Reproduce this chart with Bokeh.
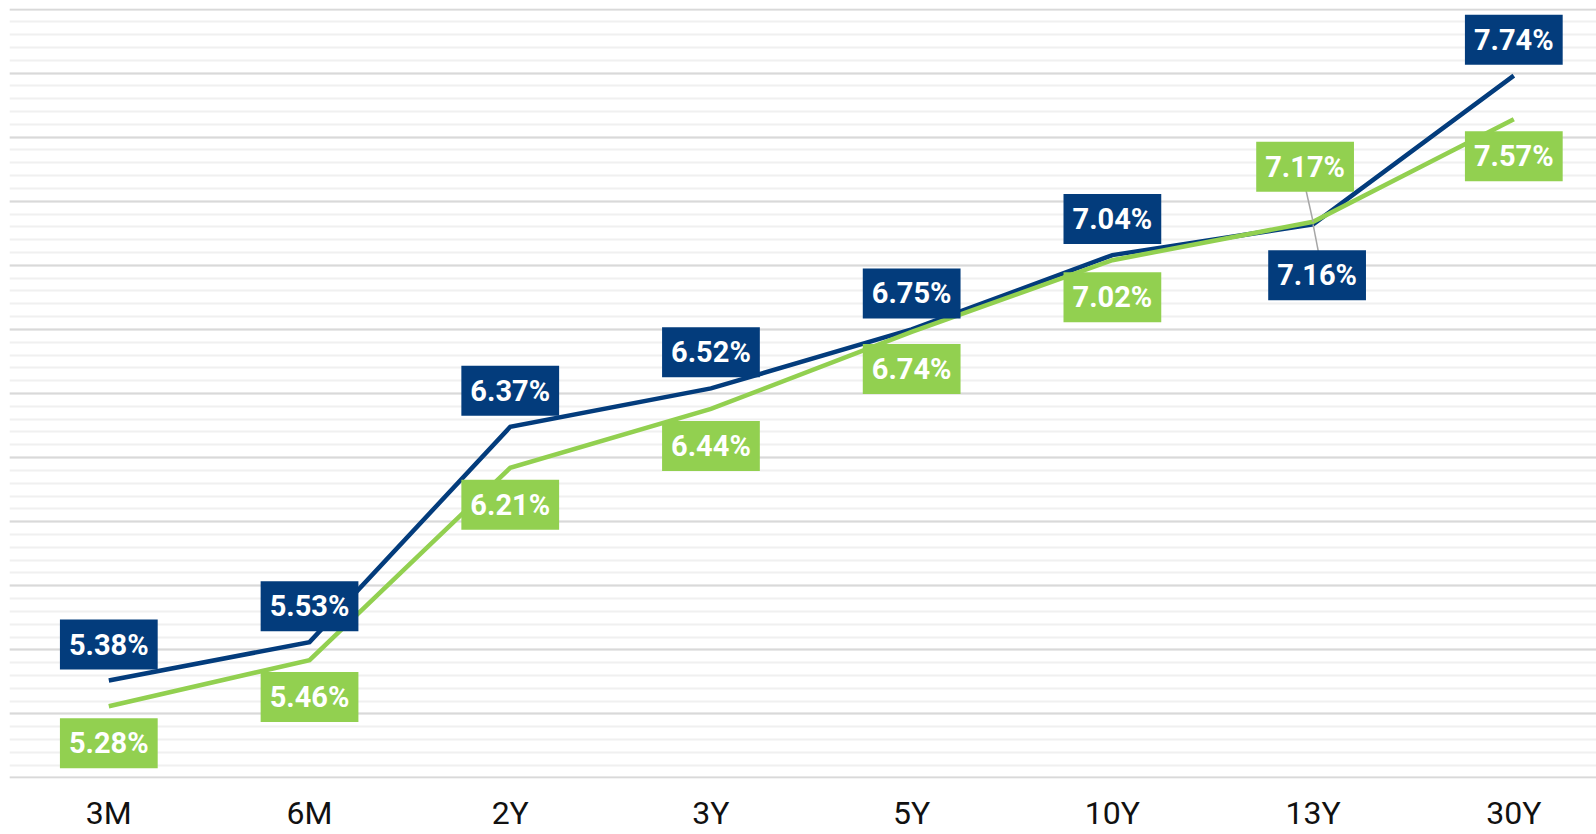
from bokeh.plotting import figure
from bokeh.models import Range1d, FixedTicker, ColumnDataSource
from bokeh.embed import file_html
from bokeh.resources import INLINE
from bokeh.core.properties import value

# ---- data ----
tenors = ["3M", "6M", "2Y", "3Y", "5Y", "10Y", "13Y", "30Y"]
series_blue = [5.38, 5.53, 6.37, 6.52, 6.75, 7.04, 7.16, 7.74]
series_green = [5.28, 5.46, 6.21, 6.44, 6.74, 7.02, 7.17, 7.57]

BLUE = "#033c7c"
GREEN = "#92d050"

FRAME_H = 770
Y0, Y1 = 4.998, 8.002
PPU = FRAME_H / (Y1 - Y0)

xs = list(range(len(tenors)))

p = figure(width=1596, height=834, output_backend="svg", toolbar_location=None,
           x_range=Range1d(-0.4948, 7.412), y_range=Range1d(Y0, Y1),
           min_border_left=9, min_border_right=0, min_border_top=8, min_border_bottom=56)
p.outline_line_color = None
p.background_fill_color = "white"
p.border_fill_color = "white"

# grid
p.xgrid.visible = False
p.yaxis.visible = False
yt = [5.0 + 0.25 * i for i in range(13)]
ym = [5.0 + 0.05 * i for i in range(61)]
p.ygrid.ticker = FixedTicker(ticks=yt, minor_ticks=ym)
p.ygrid.grid_line_color = "#d9d9d9"
p.ygrid.grid_line_width = 2
p.ygrid.minor_grid_line_color = "#f0f0f0"
p.ygrid.minor_grid_line_width = 2

# x axis
p.xaxis.ticker = FixedTicker(ticks=xs)
p.xaxis.major_label_overrides = {i: t for i, t in enumerate(tenors)}
p.xaxis.axis_line_color = None
p.xaxis.major_tick_line_color = None
p.xaxis.minor_tick_line_color = None
p.xaxis.major_tick_out = 0
p.xaxis.major_tick_in = 0
p.xaxis.minor_tick_out = 0
p.xaxis.major_label_text_font = "Roboto"
p.xaxis.major_label_text_font_size = "32px"
p.xaxis.major_label_text_color = "#111111"
p.xaxis.major_label_standoff = 15

# lines
p.line(xs, series_blue, line_color=BLUE, line_width=4.5, line_join="miter")
p.line(xs, series_green, line_color=GREEN, line_width=4.5, line_join="miter")

# leader lines for 13Y
i13 = tenors.index("13Y")
p.segment(x0=[i13 - 0.037, i13], y0=[series_green[i13] + 33 / PPU, series_blue[i13]],
          x1=[i13, i13 + 0.027], y1=[series_green[i13], series_blue[i13] - 28 / PPU],
          line_color="#a6a6a6", line_width=1.5)

# labels
def offsets(n, default_dy, special):
    dx = [0] * n
    dy = [default_dy] * n
    for k, (ox, oy) in special.items():
        dx[k] = ox
        dy[k] = oy
    return dx, dy

bdx, bdy = offsets(len(xs), -36, {i13: (4, 51)})
gdx, gdy = offsets(len(xs), 37, {i13: (-8, -55)})

for vals, col, dx, dy in [(series_blue, BLUE, bdx, bdy), (series_green, GREEN, gdx, gdy)]:
    src = ColumnDataSource(dict(x=xs, y=vals, t=[f"{v:.2f}%" for v in vals], dx=dx, dy=dy))
    p.text(x="x", y="y", text="t", source=src, x_offset="dx", y_offset="dy",
           text_align="center", text_baseline="middle",
           text_font=value("Roboto"), text_font_style="bold", text_font_size="29px",
           text_color="white", background_fill_color=col, padding=(9, 8))

open("out.html", "w").write(file_html(p, INLINE))
